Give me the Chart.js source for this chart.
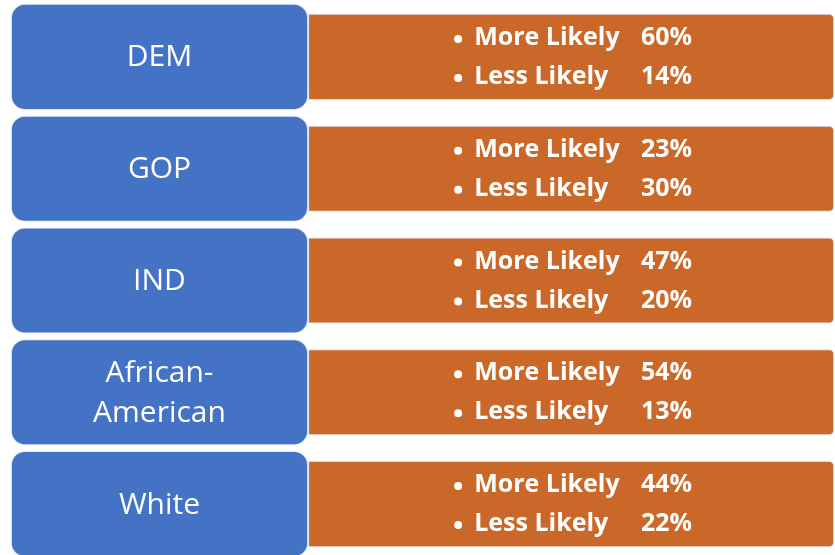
<!DOCTYPE html>
<html>
<head>
<meta charset="utf-8">
<script src="https://cdn.jsdelivr.net/npm/chart.js@4/dist/chart.umd.min.js"></script>
<style>
  html, body { margin: 0; padding: 0; background: #fff; overflow: hidden; }
  canvas { display: block; }
</style>
</head>
<body>
<canvas id="chart" width="835" height="560"></canvas>
<script>
// data
const groups = ['DEM', 'GOP', 'IND', ['African-', 'American'], 'White'];
const moreLikely = [60, 23, 47, 54, 44];
const lessLikely = [14, 30, 20, 13, 22];
const lineLabels = ['More Likely', 'Less Likely'];

// layout of the two boxes along the x axis (0..100 of the width)
const labelSpan = [1.3, 36.9];
const textSpan = [36.9, 99.9];

const BLUE = '#4472c4';
const ORANGE = '#c96828';
const FONT = '"Open Sans", Lato, sans-serif';

const boxText = {
  id: 'boxText',
  afterDatasetsDraw(chart) {
    const ctx = chart.ctx;
    const blue = chart.getDatasetMeta(0).data;
    const orange = chart.getDatasetMeta(1).data;
    ctx.save();
    ctx.fillStyle = '#fff';
    ctx.textBaseline = 'middle';

    // group names in the blue boxes
    ctx.font = '30px ' + FONT;
    ctx.textAlign = 'center';
    blue.forEach((bar, i) => {
      const cx = (bar.x + bar.base) / 2;
      const lines = Array.isArray(groups[i]) ? groups[i] : [groups[i]];
      lines.forEach((t, j) => {
        const dy = (j - (lines.length - 1) / 2) * 40;
        ctx.fillText(t, cx, bar.y + dy + 1);
      });
    });

    // bullet lines in the orange boxes
    ctx.font = 'bold 25px ' + FONT;
    orange.forEach((bar, i) => {
      const cx = (bar.x + bar.base) / 2;
      const vals = [moreLikely[i], lessLikely[i]];
      vals.forEach((v, j) => {
        const y = bar.y - 19 + j * 39;
        ctx.beginPath();
        ctx.arc(cx - 113, y + 1, 4, 0, Math.PI * 2);
        ctx.fill();
        ctx.textAlign = 'left';
        ctx.fillText(lineLabels[j], cx - 97, y);
        ctx.textAlign = 'right';
        ctx.fillText(v + '%', cx + 121, y);
      });
    });
    ctx.restore();
  }
};

new Chart(document.getElementById('chart'), {
  type: 'bar',
  data: {
    labels: groups.map(g => Array.isArray(g) ? g.join('') : g),
    datasets: [
      {
        label: 'group',
        data: groups.map(() => labelSpan),
        backgroundColor: BLUE,
        borderColor: '#dfe6f3',
        borderWidth: 1,
        borderSkipped: false,
        borderRadius: 14,
        grouped: false,
        barPercentage: 0.949,
        categoryPercentage: 1
      },
      {
        label: 'response',
        data: groups.map(() => textSpan),
        backgroundColor: ORANGE,
        borderColor: '#d8dde8',
        borderWidth: 1,
        borderSkipped: false,
        borderRadius: { topLeft: 0, bottomLeft: 0, topRight: 5, bottomRight: 5 },
        grouped: false,
        barPercentage: 0.77,
        categoryPercentage: 1
      }
    ]
  },
  options: {
    indexAxis: 'y',
    responsive: false,
    animation: false,
    devicePixelRatio: 1,
    layout: { padding: { top: 1, bottom: 0, left: 0, right: 0 } },
    scales: {
      x: { type: 'linear', min: 0, max: 100, display: false },
      y: { display: false }
    },
    plugins: { legend: { display: false }, tooltip: { enabled: false } }
  },
  plugins: [boxText]
});
</script>
</body>
</html>
